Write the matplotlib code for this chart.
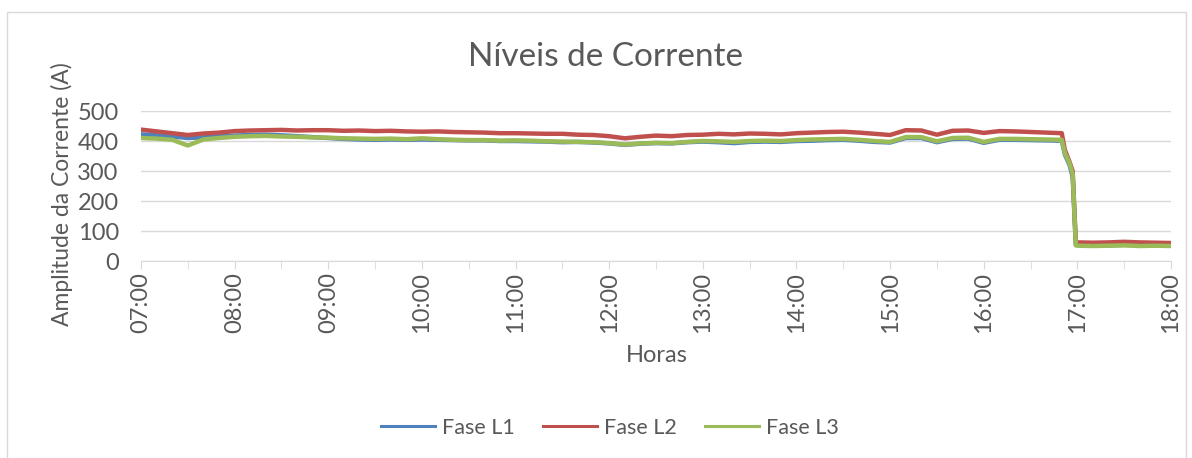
import numpy as np
import matplotlib.pyplot as plt
from matplotlib.patches import Rectangle

# minutes after 07:00
minutes = list(range(0, 600, 10)) + [592, 595, 597, 599] + list(range(600, 670, 10))

fase_l1 = [422, 420, 415, 410, 412, 416, 418, 420, 421, 419, 416, 413,
           410, 407, 405, 404, 405, 404, 405, 404, 403, 402, 402, 400,
           400, 399, 398, 396, 397, 395, 392, 387, 391, 393, 392, 396,
           398, 396, 393, 397, 398, 397, 400, 401, 403, 404, 401, 397,
           395, 410, 410, 396, 407, 408, 394, 404, 404, 403, 402, 401,
           355, 320, 280, 55,
           54, 53, 52, 54, 53, 52, 52]

fase_l2 = [438, 432, 426, 420, 425, 428, 433, 435, 436, 437, 435, 436,
           436, 434, 435, 433, 434, 432, 431, 432, 430, 429, 428, 426,
           426, 425, 424, 424, 421, 420, 416, 409, 414, 418, 416, 420,
           421, 424, 422, 425, 424, 422, 426, 428, 430, 431, 428, 424,
           420, 436, 435, 421, 434, 435, 427, 433, 432, 430, 428, 426,
           370, 330, 300, 64,
           62, 61, 62, 64, 62, 61, 60]

fase_l3 = [410, 408, 404, 385, 405, 410, 414, 416, 417, 415, 414, 412,
           411, 409, 408, 407, 408, 406, 409, 406, 404, 403, 403, 401,
           402, 401, 399, 398, 397, 396, 393, 388, 392, 394, 393, 397,
           400, 399, 397, 400, 401, 400, 403, 405, 406, 407, 404, 400,
           397, 413, 413, 399, 410, 411, 397, 407, 407, 406, 405, 404,
           360, 325, 290, 52,
           51, 50, 51, 52, 50, 51, 50]

hour_labels = ['07:00', '08:00', '09:00', '10:00', '11:00', '12:00',
               '13:00', '14:00', '15:00', '16:00', '17:00', '18:00']

plt.rcParams['font.family'] = ['Lato', 'DejaVu Sans']
txt = '#595959'
W, H = 1192, 458

fig = plt.figure(figsize=(W / 100, H / 100), dpi=100)
fig.patches.append(Rectangle((7 / W, -0.1), 1179 / W, 1.1 - 12 / H,
                             transform=fig.transFigure, fill=False,
                             edgecolor='#D9D9D9', linewidth=1))

ax = fig.add_axes([141 / W, 1 - 261 / H, 1030 / W, 150 / H])

x = np.array(minutes) / 60.0
ax.plot(x, fase_l1, color='#4F81BD', lw=3.2, label='Fase L1')
ax.plot(x, fase_l2, color='#C0504D', lw=3.2, label='Fase L2')
ax.plot(x, fase_l3, color='#9BBB59', lw=3.2, label='Fase L3')

ax.set_xlim(0, 11)
ax.set_ylim(0, 500)
ax.set_yticks(range(0, 501, 100))
ax.set_xticks(range(12))
ax.set_xticklabels(hour_labels, rotation=90)
ax.set_xticks(np.arange(0.5, 11, 1), minor=True)
ax.grid(axis='y', color='#D9D9D9', lw=1)
ax.set_axisbelow(True)
for s in ['top', 'right', 'left']:
    ax.spines[s].set_visible(False)
ax.spines['bottom'].set_color('#D9D9D9')
ax.tick_params(axis='x', which='both', direction='out', length=6,
               color='#D9D9D9', labelcolor=txt, labelsize=17, pad=2)
ax.tick_params(axis='y', length=0, labelcolor=txt, labelsize=17, pad=16)

fig.text(606 / W, 1 - 57 / H, 'Níveis de Corrente', fontsize=24,
         color=txt, ha='center', va='center')
fig.text(62 / W, 1 - 194 / H, 'Amplitude da Corrente (A)', fontsize=16.5,
         color=txt, ha='center', va='center', rotation=90)
fig.text(657 / W, 1 - 356 / H, 'Horas', fontsize=17, color=txt,
         ha='center', va='center')

leg = fig.legend(loc='center', bbox_to_anchor=(610 / W, 1 - 428 / H), ncol=3,
                 frameon=False, fontsize=15.5, labelcolor=txt, handlelength=2.5,
                 columnspacing=1.3, handletextpad=0.35)
for line in leg.get_lines():
    line.set_linewidth(2.2)

fig.savefig('out.png', dpi=100)
